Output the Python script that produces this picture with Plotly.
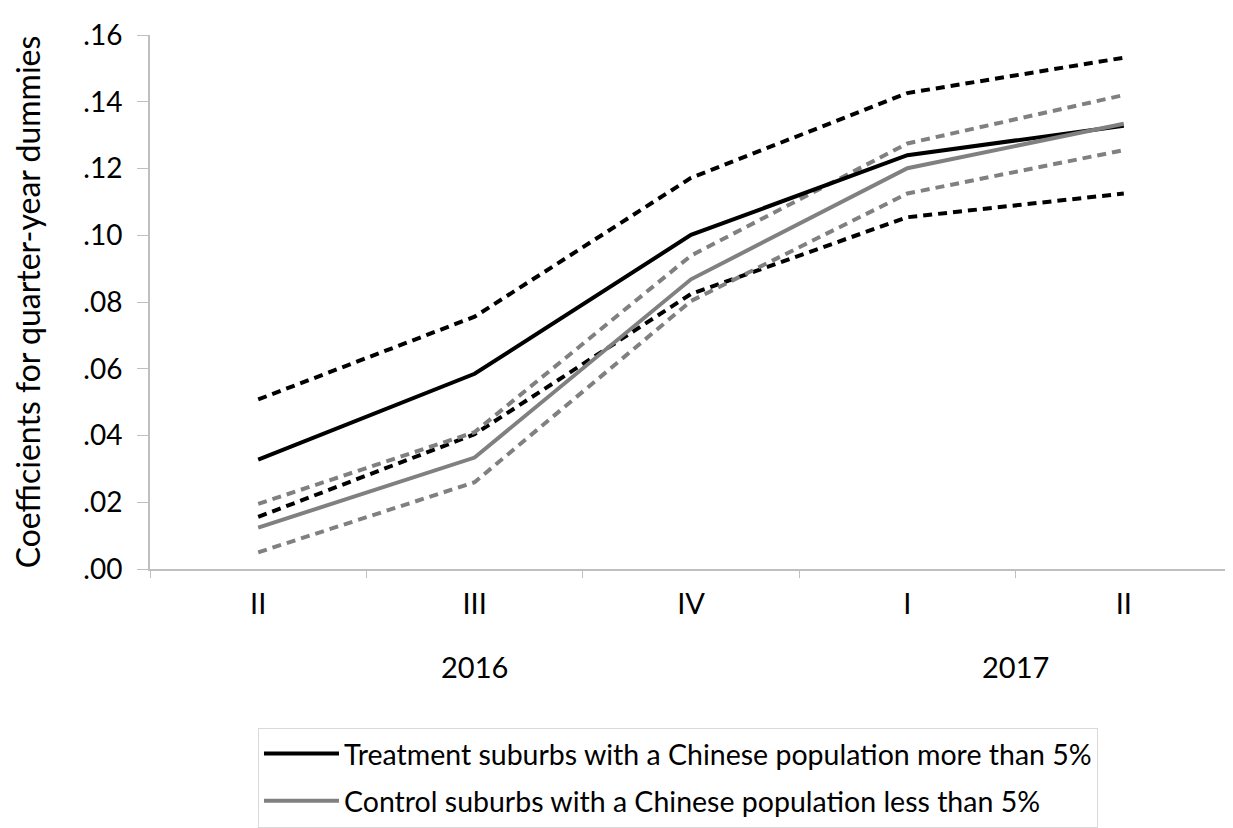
import plotly.graph_objects as go

quarters = ["II", "III", "IV", "I", "II"]
years = ["2016", "2017"]
year_centers = [1, 3.5]
y_ticks = [0, 0.02, 0.04, 0.06, 0.08, 0.10, 0.12, 0.14, 0.16]
y_tick_labels = [".00", ".02", ".04", ".06", ".08", ".10", ".12", ".14", ".16"]

treat = [0.0328, 0.0585, 0.1001, 0.1240, 0.1328]
treat_hi = [0.0508, 0.0756, 0.1172, 0.1426, 0.1532]
treat_lo = [0.0156, 0.0404, 0.0824, 0.1054, 0.1125]
ctrl = [0.0124, 0.0334, 0.0868, 0.1201, 0.1334]
ctrl_hi = [0.0195, 0.0410, 0.0939, 0.1275, 0.1420]
ctrl_lo = [0.0050, 0.0260, 0.0803, 0.1125, 0.1255]

x = list(range(len(quarters)))
BLACK = "#000000"
GRAY = "#808080"
AXIS = "#bfbfbf"
FONT = "Lato"

fig = go.Figure()
for ys, col in [(treat_hi, BLACK), (treat_lo, BLACK), (ctrl_hi, GRAY), (ctrl_lo, GRAY)]:
    fig.add_trace(go.Scatter(x=x, y=ys, mode="lines", showlegend=False, hoverinfo="skip",
                             line=dict(color=col, width=4, dash="9px,6px")))
fig.add_trace(go.Scatter(x=x, y=treat, mode="lines", legendgroup="t",
                         name="Treatment suburbs with a Chinese population more than 5%",
                         line=dict(color=BLACK, width=4)))
fig.add_trace(go.Scatter(x=x, y=ctrl, mode="lines", legendgroup="c",
                         name="Control suburbs with a Chinese population less than 5%",
                         line=dict(color=GRAY, width=4)))

for yr, xc in zip(years, year_centers):
    fig.add_annotation(x=xc, y=-0.1827, xref="x", yref="paper", text=yr,
                       xanchor="center", yanchor="middle", showarrow=False,
                       font=dict(family=FONT, size=29, color="black"))

fig.update_layout(
    width=1233, height=828,
    margin=dict(l=142, r=9, t=19, b=267),
    paper_bgcolor="white", plot_bgcolor="white",
    font=dict(family=FONT, color="black"),
    xaxis=dict(range=[-0.5, 4.5], tickvals=x, ticktext=quarters, ticks="",
               showgrid=False, zeroline=False, showline=True, linecolor=AXIS,
               linewidth=2, tickfont=dict(size=29), ticklabelstandoff=8,
               ticklabeloverflow="allow",
               minor=dict(tickvals=[-0.5, 0.5, 1.5, 2.5, 3.5, 4.5], ticks="outside",
                          ticklen=7, tickcolor=AXIS, tickwidth=1, showgrid=False)),
    yaxis=dict(range=[0, 0.16], tickvals=y_ticks, ticktext=y_tick_labels,
               ticks="outside", ticklen=11, tickcolor=AXIS, tickwidth=1,
               showgrid=False, zeroline=False, showline=True, linecolor=AXIS,
               linewidth=2, tickfont=dict(size=28), ticklabelstandoff=9,
               ticklabeloverflow="allow",
               title=dict(text="Coefficients for quarter-year dummies",
                          font=dict(size=32), standoff=38)),
    legend=dict(x=0.0998, y=-0.297, xanchor="left", yanchor="top",
                bordercolor="#d9d9d9", borderwidth=1, font=dict(size=28.5),
                tracegroupgap=7, itemwidth=75),
)

fig.write_html("out.html")
